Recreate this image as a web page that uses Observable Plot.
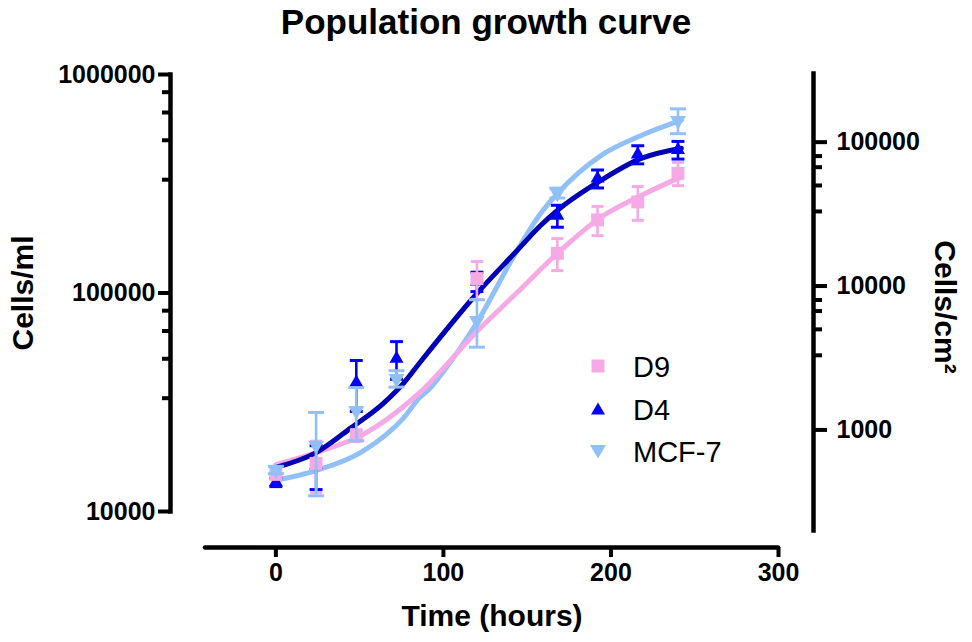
<!DOCTYPE html>
<html><head><meta charset="utf-8">
<script src="https://cdn.jsdelivr.net/npm/d3@7"></script>
<script src="https://cdn.jsdelivr.net/npm/@observablehq/plot@0.6"></script>
<style>
body{margin:0;background:#fff;font-family:"Liberation Sans",Arial,sans-serif;}
#wrap{position:relative;width:972px;height:642px;overflow:hidden;background:#fff;}
#title{position:absolute;left:0;top:2px;width:972px;text-align:center;font-weight:bold;font-size:35px;line-height:40px;color:#000;}
.layer{position:absolute;left:0;top:44px;}
.lgtext{position:absolute;font-size:29px;line-height:34px;color:#000;white-space:nowrap;}
.lgsym{position:absolute;}
</style></head><body>
<div id="wrap">
<div id="title">Population growth curve</div>
<div id="main" class="layer"></div>
<div id="right" class="layer"></div>
<div id="legend"></div>
</div>
<script>
// ---- axes ----
const xDomain = [-42, 300];
const xTicks = [0, 100, 200, 300];
const yDomain = [10000, 1000000];
const leftMajor = [10000, 100000, 1000000];
const leftMinor = [33000, 50000, 67000, 83000, 330000, 500000, 670000, 830000];
const rightDomain = [200, 300000];
const rightMajor = [1000, 10000, 100000];
const rightMinor = [3300, 5000, 6700, 8000, 33000, 50000, 67000, 80000];

// ---- series names ----
const seriesNames = ["D9", "D4", "MCF-7"];

// ---- measured points (mean, SD) ----
const d9Time = [0, 24, 48, 120, 168, 192, 216, 240];
const d9Mean = [14800, 16600, 22300, 116400, 152000, 216000, 261000, 353000];
const d9Sd   = [700, 4400, 1400, 22900, 25400, 33000, 46000, 43000];

const d4Time = [0, 24, 48, 72, 120, 168, 192, 216, 240];
const d4Mean = [13600, 16300, 38900, 50100, 113000, 226000, 334000, 431000, 452000];
const d4Sd   = [600, 3700, 10200, 9800, 11500, 26000, 31500, 41000, 42000];

const mcfTime = [0, 24, 48, 72, 120, 168, 240];
const mcfMean = [15500, 20100, 29000, 40600, 74800, 287000, 616000];
const mcfSd   = [600, 8300, 7900, 3500, 18300, 15000, 80000];

// ---- fitted curves ----
const d9FitTime  = [0, 24, 51, 86, 120, 144, 168, 194, 218, 242];
const d9FitValue = [16400, 18600, 22300, 35100, 66700, 100500, 151700, 222300, 279300, 340000];
const d4FitTime  = [0, 24, 45, 64, 76, 86, 120, 144, 158, 168, 194, 218, 242];
const d4FitValue = [15900, 18600, 24200, 31200, 38500, 48100, 99500, 156600, 203800, 238600, 327500, 412900, 460000];
const mcfFitTime  = [0, 24, 51, 76, 86, 92, 100, 120, 144, 158, 168, 194, 218, 242];
const mcfFitValue = [13900, 15400, 18700, 26700, 33300, 36600, 43700, 73300, 156600, 231200, 285100, 425600, 525700, 618000];

const colD9 = "#F5AAE5", colD4 = "#0000FF", colD4Fit = "#0000B4", colMcf = "#91C0F7";
const FONT = '"Liberation Sans", Arial, sans-serif';

const pts = (time, mean, sd) => time.map((t, i) => ({t, v: mean[i], lo: mean[i] - sd[i], hi: mean[i] + sd[i]}));
const fit = (time, val) => time.map((t, i) => ({t, v: val[i]}));

const triDown = {draw(ctx, size) {
  const y = Math.sqrt(size / (3 * Math.sqrt(3)));
  ctx.moveTo(0, 2 * y); ctx.lineTo(-Math.sqrt(3) * y, -y); ctx.lineTo(Math.sqrt(3) * y, -y); ctx.closePath();
}};
const cap = {draw(ctx, size) {
  const w = Math.sqrt(size) / 2;
  ctx.moveTo(-w, 0); ctx.lineTo(w, 0);
}};

function seriesMarks(data, color, symbol, r, capR) {
  return [
    Plot.ruleX(data, {x: "t", y1: "lo", y2: "hi", stroke: color, strokeWidth: 2.6}),
    Plot.dot(data, {x: "t", y: "lo", symbol: cap, r: capR, stroke: color, strokeWidth: 3, fill: "none"}),
    Plot.dot(data, {x: "t", y: "hi", symbol: cap, r: capR, stroke: color, strokeWidth: 3, fill: "none"}),
    Plot.dot(data, {x: "t", y: "v", symbol, r, fill: color, stroke: "none"})
  ];
}

const d9 = pts(d9Time, d9Mean, d9Sd), d4 = pts(d4Time, d4Mean, d4Sd), mcf = pts(mcfTime, mcfMean, mcfSd);

const main = Plot.plot({
  width: 972, height: 598,
  marginLeft: 205, marginRight: 194, marginTop: 30, marginBottom: 131,
  style: {background: "transparent", fontFamily: FONT, color: "#000", overflow: "visible"},
  x: {domain: xDomain, axis: null},
  y: {type: "log", domain: yDomain, axis: null},
  marks: [
    // x axis
    Plot.ruleY([yDomain[0]], {dy: 36, strokeWidth: 4.5, stroke: "#000", strokeLinecap: "round"}),
    Plot.axisX(xTicks, {anchor: "bottom", dy: 36, tickSize: 10, strokeWidth: 4, tickPadding: 6,
      fontSize: 25, fontWeight: "bold", label: null, tickFormat: d => String(d)}),
    // left y axis
    Plot.frame({anchor: "left", dx: -35, strokeWidth: 4.5, stroke: "#000"}),
    Plot.axisY(leftMajor, {anchor: "left", dx: -35, tickSize: 12, strokeWidth: 4, tickPadding: 3,
      fontSize: 25, fontWeight: "bold", label: null, tickFormat: d => String(d)}),
    Plot.axisY(leftMinor, {anchor: "left", dx: -35, tickSize: 8, strokeWidth: 4, fill: "none", label: null}),
    // axis titles
    Plot.text(["Time (hours)"], {frameAnchor: "bottom", dy: 105, textAnchor: "middle", lineAnchor: "middle", fontSize: 30, fontWeight: "bold"}),
    Plot.text(["Cells/ml"], {frameAnchor: "left", dx: -182, textAnchor: "middle", lineAnchor: "middle", rotate: -90, fontSize: 30, fontWeight: "bold"}),
    // fitted curves
    Plot.line(fit(mcfFitTime, mcfFitValue), {x: "t", y: "v", stroke: colMcf, strokeWidth: 5, curve: "monotone-x"}),
    Plot.line(fit(d9FitTime, d9FitValue), {x: "t", y: "v", stroke: colD9, strokeWidth: 5, curve: "monotone-x"}),
    Plot.line(fit(d4FitTime, d4FitValue), {x: "t", y: "v", stroke: colD4Fit, strokeWidth: 5, curve: "monotone-x"}),
    // points with SD bars
    ...seriesMarks(d4, colD4, "triangle", 5.2, 7.3),
    ...seriesMarks(d9, colD9, "square", 7.3, 6.8),
    ...seriesMarks(mcf, colMcf, triDown, 5.9, 9)
  ]
});
document.getElementById("main").appendChild(main);

const right = Plot.plot({
  width: 972, height: 598,
  marginLeft: 205, marginRight: 159, marginTop: 29, marginBottom: 112,
  style: {background: "transparent", fontFamily: FONT, color: "#000", overflow: "visible"},
  x: {domain: [0, 1], axis: null},
  y: {type: "log", domain: rightDomain, axis: null},
  marks: [
    Plot.frame({anchor: "right", strokeWidth: 4.5, stroke: "#000"}),
    Plot.axisY(rightMajor, {anchor: "right", tickSize: 13, strokeWidth: 4, tickPadding: 10,
      fontSize: 25, fontWeight: "bold", label: null, tickFormat: d => String(d)}),
    Plot.axisY(rightMinor, {anchor: "right", tickSize: 8, strokeWidth: 4, fill: "none", label: null}),
    Plot.text(["Cells/cm\u00B2"], {frameAnchor: "right", dx: 131, dy: 5, textAnchor: "middle", lineAnchor: "middle", rotate: 90, fontSize: 30, fontWeight: "bold"})
  ]
});
document.getElementById("right").appendChild(right);

// ---- legend ----
const legendColors = [colD9, colD4, colMcf];
const legendShapes = [
  '<rect x="3.5" y="3.5" width="13" height="13"/>',
  '<path d="M10 3.5 L17 15.5 L3 15.5 Z"/>',
  '<path d="M2 4 L18 4 L10 17.5 Z"/>'
];
const legendRowY = [366, 409, 451];
const lg = document.getElementById("legend");
seriesNames.forEach((name, i) => {
  const s = document.createElement("div");
  s.className = "lgsym";
  s.style.left = "588px"; s.style.top = (legendRowY[i] - 10) + "px";
  s.innerHTML = `<svg width="20" height="20" fill="${legendColors[i]}">${legendShapes[i]}</svg>`;
  lg.appendChild(s);
  const t = document.createElement("div");
  t.className = "lgtext";
  t.style.left = "633px"; t.style.top = (legendRowY[i] - 16) + "px";
  t.textContent = name;
  lg.appendChild(t);
});
</script>
</body></html>
